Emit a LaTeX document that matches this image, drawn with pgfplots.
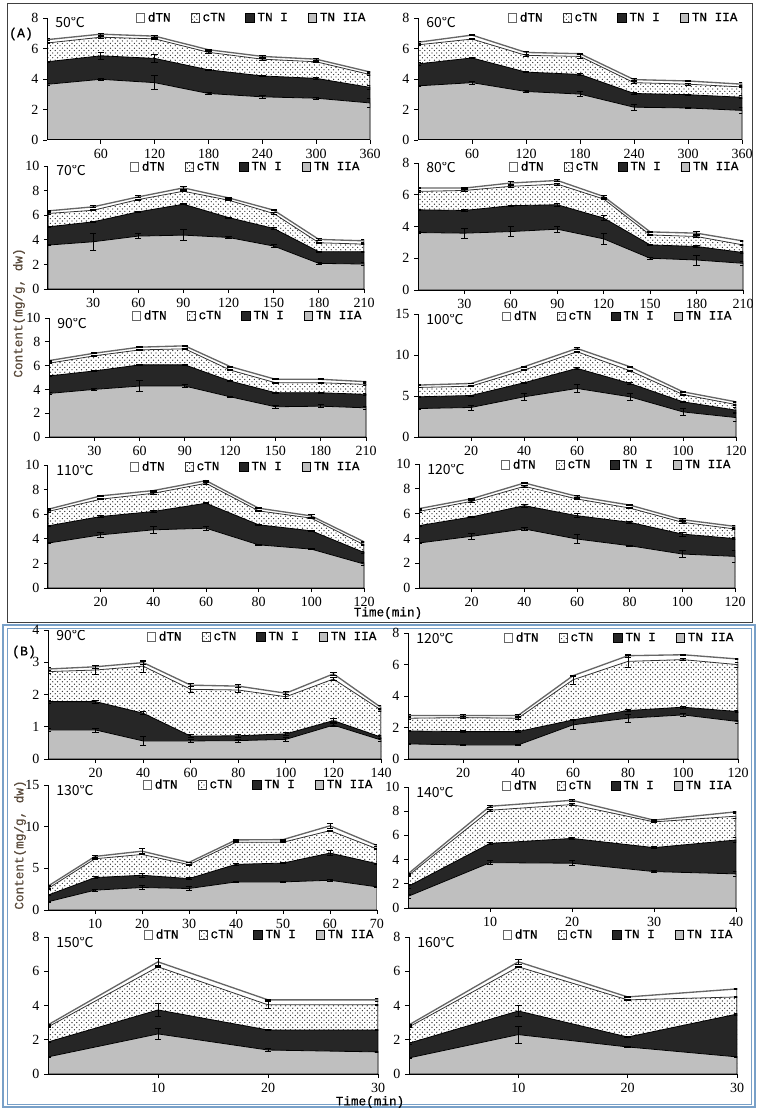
\documentclass[border=0pt]{standalone}
\usepackage{pgfplots}
\pgfplotsset{compat=1.18}
\usepackage{pgfplotstable}
\usetikzlibrary{patterns}
\usepackage{fontspec}
\setmainfont{Liberation Serif}
\newfontfamily\cjk{Noto Sans CJK SC}
\newfontfamily\mono[FakeBold=0.6]{Liberation Mono}
\definecolor{bbox}{RGB}{120,160,200}
\definecolor{clab}{RGB}{90,75,60}
\pgfdeclarepatternformonly{cdots}{\pgfqpoint{-0.6pt}{-0.6pt}}{\pgfqpoint{2.4pt}{2.4pt}}{\pgfqpoint{3.6pt}{3.6pt}}{%
  \pgfpathcircle{\pgfqpoint{0pt}{0pt}}{0.5pt}%
  \pgfpathcircle{\pgfqpoint{1.8pt}{1.8pt}}{0.5pt}%
  \pgfusepath{fill}}

% columns: x, IIA top, +TN I top, +cTN top, +dTN top (total), and error half-widths
\pgfplotstableread{
x a b c d ea eb ec ed
0 3.65 5.13 6.36 6.58 0.08 0.05 0.05 0.05
60 3.98 5.52 6.74 6.94 0.05 0.22 0.05 0.05
120 3.76 5.35 6.63 6.81 0.46 0.23 0.05 0.05
180 3.05 4.60 5.75 5.92 0.05 0.05 0.05 0.05
240 2.83 4.20 5.30 5.48 0.10 0.05 0.05 0.05
300 2.74 4.04 5.13 5.30 0.06 0.05 0.05 0.05
360 2.43 3.45 4.29 4.46 0.27 0.13 0.05 0.05
}\tA
\pgfplotstableread{
x a b c d ea eb ec ed
0 3.55 4.99 6.24 6.41 0.05 0.1 0.05 0.05
60 3.76 5.38 6.62 6.88 0.1 0.05 0.05 0.05
120 3.18 4.45 5.55 5.74 0.05 0.05 0.05 0.1
180 3.01 4.30 5.48 5.66 0.15 0.05 0.1 0.05
240 2.15 3.05 3.76 3.96 0.2 0.05 0.05 0.05
300 2.10 2.97 3.66 3.87 0.05 0.05 0.05 0.05
360 1.94 2.80 3.48 3.66 0.2 0.1 0.05 0.1
}\tB
\pgfplotstableread{
x a b c d ea eb ec ed
0 3.57 5.05 6.14 6.35 0.05 0.05 0.05 0.05
30 3.84 5.46 6.40 6.68 0.68 0.05 0.05 0.08
60 4.30 6.27 7.27 7.49 0.2 0.05 0.05 0.08
90 4.38 6.89 7.95 8.22 0.43 0.05 0.05 0.1
120 4.19 5.81 7.22 7.41 0.05 0.05 0.05 0.05
150 3.49 4.92 6.14 6.41 0.1 0.05 0.05 0.05
180 2.08 3.03 3.76 4.03 0.07 0.05 0.05 0.1
210 2.03 3.03 3.65 3.92 0.1 0.05 0.05 0.1
}\tC
\pgfplotstableread{
x a b c d ea eb ec ed
0 3.62 5.05 6.21 6.42 0.05 0.05 0.05 0.05
30 3.58 5.01 6.27 6.42 0.3 0.05 0.05 0.05
60 3.68 5.31 6.53 6.74 0.3 0.05 0.05 0.08
90 3.83 5.37 6.67 6.90 0.2 0.1 0.05 0.08
120 3.22 4.53 5.73 5.89 0.32 0.15 0.05 0.08
150 2.00 2.84 3.47 3.66 0.05 0.05 0.05 0.05
180 1.89 2.74 3.37 3.58 0.32 0.05 0.05 0.08
210 1.68 2.36 2.84 3.09 0.1 0.05 0.05 0.05
}\tD
\pgfplotstableread{
x a b c d ea eb ec ed
0 3.66 5.13 6.20 6.42 0.05 0.05 0.05 0.05
30 4.00 5.55 6.82 7.04 0.1 0.05 0.05 0.05
60 4.28 6.06 7.32 7.55 0.45 0.05 0.05 0.05
90 4.28 6.06 7.41 7.66 0.15 0.05 0.05 0.05
120 3.38 4.70 5.63 5.92 0.05 0.05 0.05 0.05
150 2.54 3.72 4.56 4.85 0.12 0.05 0.05 0.05
180 2.59 3.72 4.56 4.85 0.12 0.05 0.05 0.05
210 2.45 3.58 4.42 4.65 0.12 0.05 0.05 0.05
}\tE
\pgfplotstableread{
x a b c d ea eb ec ed
0 3.47 4.90 6.04 6.33 0.05 0.05 0.05 0.05
20 3.60 5.06 6.20 6.53 0.3 0.05 0.05 0.05
40 4.90 6.61 8.16 8.57 0.4 0.05 0.05 0.1
60 5.92 8.37 10.40 10.80 0.5 0.1 0.05 0.1
80 4.90 6.53 8.08 8.57 0.4 0.1 0.05 0.1
100 3.06 4.29 5.18 5.51 0.4 0.1 0.05 0.1
120 2.37 3.27 3.96 4.29 0.5 0.3 0.05 0.1
}\tF
\pgfplotstableread{
x a b c d ea eb ec ed
0 3.65 5.05 6.22 6.40 0.05 0.05 0.05 0.05
20 4.32 5.81 7.22 7.49 0.2 0.1 0.05 0.05
40 4.73 6.22 7.70 7.92 0.3 0.1 0.05 0.05
60 4.86 6.89 8.51 8.73 0.15 0.05 0.05 0.05
80 3.51 5.14 6.27 6.49 0.05 0.05 0.05 0.05
100 3.16 4.65 5.68 5.86 0.05 0.05 0.05 0.1
120 1.95 2.89 3.51 3.76 0.1 0.05 0.05 0.05
}\tG
\pgfplotstableread{
x a b c d ea eb ec ed
0 3.63 5.03 6.18 6.40 0.05 0.05 0.05 0.05
20 4.17 5.73 6.99 7.20 0.25 0.05 0.05 0.05
40 4.76 6.64 8.20 8.47 0.15 0.1 0.05 0.05
60 3.95 5.83 7.18 7.39 0.35 0.15 0.05 0.1
80 3.41 5.30 6.45 6.69 0.05 0.05 0.05 0.05
100 2.74 4.35 5.30 5.51 0.3 0.15 0.05 0.08
120 2.55 3.98 4.76 4.97 0.47 0.08 0.05 0.1
}\tH
\pgfplotstableread{
x a b c d ea eb ec ed
0 0.90 1.78 2.71 2.79 0.05 0.05 0.05 0.05
20 0.90 1.78 2.76 2.86 0.06 0.05 0.15 0.05
40 0.56 1.42 2.88 2.99 0.13 0.05 0.18 0.05
60 0.56 0.71 2.16 2.29 0.05 0.05 0.08 0.05
80 0.57 0.72 2.14 2.26 0.05 0.05 0.08 0.05
100 0.61 0.78 1.93 2.04 0.05 0.05 0.06 0.05
120 1.05 1.19 2.48 2.64 0.05 0.06 0.05 0.05
140 0.59 0.68 1.52 1.60 0.05 0.05 0.05 0.05
}\tI
\pgfplotstableread{
x a b c d ea eb ec ed
0 0.96 1.78 2.59 2.76 0.05 0.05 0.05 0.05
20 0.89 1.74 2.63 2.76 0.05 0.05 0.05 0.05
40 0.89 1.74 2.59 2.76 0.05 0.05 0.05 0.05
60 2.17 2.48 5.03 5.29 0.27 0.05 0.27 0.05
80 2.59 3.08 6.20 6.56 0.25 0.05 0.37 0.1
100 2.80 3.29 6.31 6.62 0.08 0.05 0.05 0.05
120 2.38 3.01 5.99 6.35 0.1 0.05 0.15 0.05
}\tJ
\pgfplotstableread{
x a b c d ea eb ec ed
0 0.99 1.79 2.58 2.86 0.05 0.05 0.05 0.05
10 2.38 3.89 6.15 6.43 0.1 0.1 0.05 0.1
20 2.70 4.17 6.67 7.06 0.2 0.25 0.05 0.3
30 2.58 3.77 5.44 5.71 0.2 0.1 0.05 0.05
40 3.37 5.48 8.13 8.41 0.05 0.1 0.05 0.1
50 3.37 5.63 8.13 8.45 0.05 0.05 0.05 0.05
60 3.57 6.83 9.52 10.10 0.1 0.3 0.05 0.3
70 2.78 5.56 7.34 7.74 0.05 0.05 0.05 0.1
}\tK
\pgfplotstableread{
x a b c d ea eb ec ed
0 0.96 1.78 2.66 2.82 0.2 0.2 0.05 0.05
10 3.75 5.34 8.08 8.41 0.15 0.1 0.1 0.1
20 3.70 5.75 8.55 8.90 0.2 0.1 0.1 0.05
30 3.01 4.99 7.12 7.26 0.1 0.1 0.05 0.05
40 2.82 5.62 7.59 7.95 0.2 0.2 0.2 0.05
}\tL
\pgfplotstableread{
x a b c d ea eb ec ed
0 1.00 1.87 2.75 2.87 0.05 0.05 0.05 0.05
10 2.34 3.74 6.26 6.55 0.3 0.4 0.05 0.2
20 1.40 2.57 4.04 4.33 0.1 0.05 0.2 0.05
30 1.29 2.57 4.04 4.33 0.05 0.05 0.05 0.1
}\tM
\pgfplotstableread{
x a b c d ea eb ec ed
0 0.94 1.80 2.75 2.87 0.05 0.05 0.05 0.05
10 2.30 3.68 6.26 6.55 0.5 0.3 0.05 0.15
20 1.58 2.16 4.33 4.50 0.05 0.05 0.05 0.05
30 1.00 3.50 4.50 4.97 0.05 0.05 0.05 0.05
}\tN

\pgfplotsset{
  pan/.style={scale only axis, anchor=south west, axis on top,
    ymin=0, xmin=0, enlargelimits=false,
    axis x line*=bottom, axis y line*=left,
    axis line style={black, line width=0.75pt},
    tick align=outside, major tick length=3pt,
    tick style={black, line width=0.6pt},
    ticklabel style={font=\fontsize{10.5}{11}\selectfont},
    /pgf/number format/assume math mode=true,
    legend columns=4,
    legend style={draw=none, fill=none, at={(0.995,1)}, anchor=east,
      font=\mono\fontsize{9.5}{10}\selectfont, inner sep=0pt,
      /tikz/every odd column/.append style={column sep=0pt},
      /tikz/every even column/.append style={column sep=13pt}},
    legend image code/.code={\draw[##1, line width=0.6pt] (0pt,-3.2pt) rectangle (6.4pt,3.2pt);},
  },
  dtnS/.style={fill=white, draw=black!60, line width=1pt},
  ctnS/.style={pattern=cdots, pattern color=black!85, draw=black!80, line width=0.6pt},
  tnoS/.style={fill=black!85, draw=black, line width=0.6pt},
  tntS/.style={fill=black!25, draw=black, line width=0.6pt},
  ebS/.style={forget plot, draw=none, mark=none,
    error bars/.cd, y dir=both, y explicit,
    error bar style={draw=black, line width=0.6pt},
    error mark options={rotate=90, draw=black, mark size=2.4pt, line width=0.6pt}},
}

\newcommand{\panel}[3]{%
  \begin{axis}[pan,#1]
  \addplot[dtnS] table[x=x,y=d]{#2} \closedcycle;
  \addplot[ctnS] table[x=x,y=c]{#2} \closedcycle;
  \addplot[tnoS] table[x=x,y=b]{#2} \closedcycle;
  \addplot[tntS] table[x=x,y=a]{#2} \closedcycle;
  \addplot[ebS] table[x=x,y=a,y error=ea]{#2};
  \addplot[ebS] table[x=x,y=b,y error=eb]{#2};
  \addplot[ebS] table[x=x,y=c,y error=ec]{#2};
  \addplot[ebS] table[x=x,y=d,y error=ed]{#2};
  \legend{dTN,cTN,TN I,TN IIA}
  \node[anchor=base west, inner sep=0pt, xshift=6pt, yshift=-7.5pt,
        font=\cjk\fontsize{10.5}{11}\selectfont] at (rel axis cs:0,1) {#3};
  \end{axis}}

\begin{document}
\begin{tikzpicture}
\useasboundingbox (0,0) rectangle (570pt,-831.75pt);
% frames
\draw[black!75, line width=0.75pt] (5.25pt,-3pt) rectangle (564pt,-466.5pt);
\draw[bbox, line width=0.9pt] (2.25pt,-468.75pt) rectangle (566.25pt,-830.25pt);
\draw[bbox, line width=0.6pt] (5.25pt,-471pt) rectangle (563.25pt,-828pt);

% (A)
\panel{at={(35.25pt,-105pt)}, width=242.25pt, height=91.5pt, ymax=8, ytick={0,2,...,8},
  xmax=360, xtick={60,120,...,360}}{\tA}{50℃}
\panel{at={(313.5pt,-105pt)}, width=243pt, height=91.5pt, ymax=8, ytick={0,2,...,8},
  xmax=360, xtick={60,120,...,360}}{\tB}{60℃}
\panel{at={(36pt,-216.75pt)}, width=237pt, height=92.25pt, ymax=10, ytick={0,2,...,10},
  xmax=210, xtick={30,60,...,210}, legend style={yshift=-0.75pt}}{\tC}{70℃}
\panel{at={(313.5pt,-217.5pt)}, width=243.75pt, height=95.25pt, ymax=8, ytick={0,2,...,8},
  xmax=210, xtick={30,60,...,210}, legend style={yshift=-3pt}}{\tD}{80℃}
\panel{at={(36.75pt,-327.75pt)}, width=237.75pt, height=89.25pt, ymax=10, ytick={0,2,...,10},
  xmax=210, xtick={30,60,...,210}, legend style={yshift=1.5pt}}{\tE}{90℃}
\panel{at={(313.5pt,-327.75pt)}, width=238.5pt, height=92.25pt, ymax=15, ytick={0,5,10,15},
  xmax=120, xtick={20,40,...,120}, legend style={yshift=-1.8pt}}{\tF}{100℃}
\panel{at={(36pt,-441pt)}, width=237pt, height=92.25pt, ymax=10, ytick={0,2,...,10},
  xmax=120, xtick={20,40,...,120}, legend style={yshift=-1.5pt}}{\tG}{110℃}
\panel{at={(314.25pt,-441pt)}, width=237pt, height=93pt, ymax=10, ytick={0,2,...,10},
  xmax=120, xtick={20,40,...,120}, legend style={yshift=-0.75pt}}{\tH}{120℃}

% (B)
\panel{at={(36pt,-569.25pt)}, width=249.75pt, height=96.75pt, ymax=4, ytick={0,1,...,4},
  xmax=140, xtick={20,40,...,140}, legend style={yshift=-5.25pt}}{\tI}{90℃}
\panel{at={(306pt,-569.25pt)}, width=247.5pt, height=94.5pt, ymax=8, ytick={0,2,...,8},
  xmax=120, xtick={20,40,...,120}, legend style={yshift=-3.75pt}}{\tJ}{120℃}
\panel{at={(36pt,-682.5pt)}, width=246.75pt, height=93.75pt, ymax=15, ytick={0,5,10,15},
  xmax=70, xtick={10,20,...,70}}{\tK}{130℃}
\panel{at={(306pt,-681pt)}, width=246pt, height=90.75pt, ymax=10, ytick={0,2,...,10},
  xmax=40, xtick={10,20,30,40}, legend style={yshift=0.75pt}}{\tL}{140℃}
\panel{at={(36pt,-805.5pt)}, width=247.5pt, height=102.75pt, ymax=8, ytick={0,2,...,8},
  xmax=30, xtick={10,20,30}, legend style={yshift=1.5pt}}{\tM}{150℃}
\panel{at={(306.75pt,-805.5pt)}, width=246pt, height=102.75pt, ymax=8, ytick={0,2,...,8},
  xmax=30, xtick={10,20,30}, legend style={yshift=1.5pt}}{\tN}{160℃}

% labels
\node[font=\mono\fontsize{10}{11}\selectfont] at (15.75pt,-25.5pt) {(A)};
\node[font=\mono\fontsize{10}{11}\selectfont] at (18pt,-489pt) {(B)};
\node[rotate=90, text=clab, font=\mono\fontsize{9.5}{10}\selectfont] at (14.25pt,-234.75pt) {Content(mg/g, dw)};
\node[rotate=90, text=clab, font=\mono\fontsize{9.5}{10}\selectfont] at (15pt,-633.75pt) {Content(mg/g, dw)};
\node[font=\mono\fontsize{9.5}{10}\selectfont] at (291pt,-459.75pt) {Time(min)};
\node[font=\mono\fontsize{9.5}{10}\selectfont] at (277.5pt,-826.5pt) {Time(min)};
\end{tikzpicture}
\end{document}
